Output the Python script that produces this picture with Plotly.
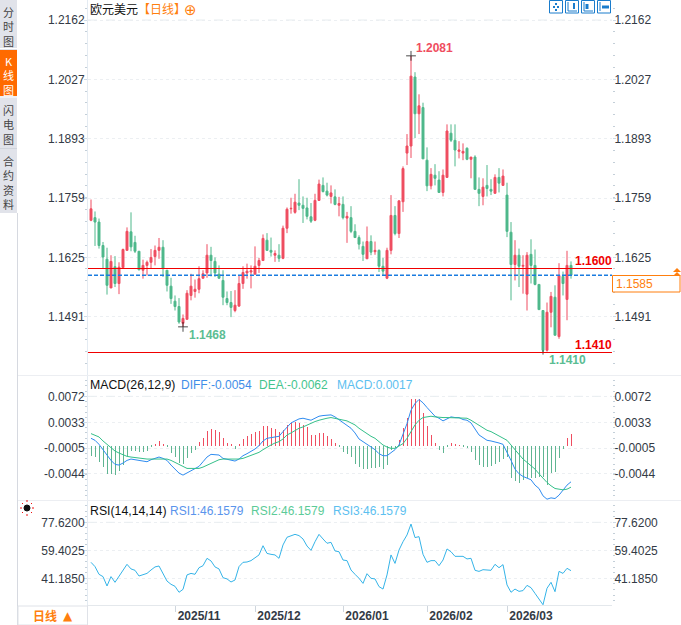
"""EUR/USD daily K-line with MACD and RSI panes."""

import plotly.graph_objects as go

# candles, oldest first
opens = [
    1.1709, 1.1715, 1.1705, 1.1652, 1.1621, 1.1556, 1.1604, 1.1566, 1.1602, 1.1641,
    1.1683, 1.1659, 1.1639, 1.1596, 1.1607, 1.1614, 1.1627, 1.1641, 1.1648, 1.1596,
    1.1560, 1.1526, 1.1514, 1.1476, 1.1485, 1.1539, 1.1548, 1.1553, 1.1578, 1.1590,
    1.1630, 1.1616, 1.1587, 1.1573, 1.1532, 1.1523, 1.1505, 1.1515, 1.1566, 1.1590,
    1.1592, 1.1587, 1.1607, 1.1618, 1.1664, 1.1641, 1.1630, 1.1630, 1.1623, 1.1691,
    1.1735, 1.1727, 1.1748, 1.1743, 1.1737, 1.1717, 1.1709, 1.1754, 1.1788, 1.1775,
    1.1763, 1.1762, 1.1743, 1.1745, 1.1714, 1.1715, 1.1684, 1.1670, 1.1650, 1.1622,
    1.1661, 1.1638, 1.1641, 1.1605, 1.1578, 1.1641, 1.1720, 1.1679, 1.1751, 1.1861,
    1.1877, 1.2033, 1.1950, 1.1964, 1.1845, 1.1787, 1.1811, 1.1800, 1.1772, 1.1806,
    1.1906, 1.1890, 1.1865, 1.1861, 1.1872, 1.1847, 1.1852, 1.1779, 1.1763, 1.1788,
    1.1779, 1.1770, 1.1806, 1.1788, 1.1766, 1.1682, 1.1609, 1.1630, 1.1605, 1.1542,
    1.1632, 1.1607, 1.1564, 1.1505, 1.1415, 1.1501, 1.1535, 1.1446, 1.1582, 1.1530,
    1.1607,
]
highs = [
    1.1756, 1.1729, 1.1713, 1.1660, 1.1647, 1.1630, 1.1628, 1.1614, 1.1645, 1.1693,
    1.1727, 1.1674, 1.1639, 1.1620, 1.1618, 1.1644, 1.1652, 1.1669, 1.1664, 1.1596,
    1.1579, 1.1539, 1.1533, 1.1496, 1.1551, 1.1588, 1.1575, 1.1605, 1.1596, 1.1655,
    1.1649, 1.1625, 1.1607, 1.1596, 1.1548, 1.1549, 1.1551, 1.1584, 1.1605, 1.1611,
    1.1607, 1.1650, 1.1624, 1.1677, 1.1680, 1.1670, 1.1641, 1.1655, 1.1697, 1.1738,
    1.1760, 1.1769, 1.1802, 1.1763, 1.1760, 1.1748, 1.1769, 1.1801, 1.1806, 1.1794,
    1.1788, 1.1779, 1.1762, 1.1763, 1.1728, 1.1741, 1.1700, 1.1675, 1.1661, 1.1695,
    1.1675, 1.1661, 1.1643, 1.1624, 1.1647, 1.1766, 1.1741, 1.1754, 1.1831, 1.1904,
    1.2081, 1.2044, 1.1994, 1.1975, 1.1874, 1.1827, 1.1836, 1.1820, 1.1824, 1.1926,
    1.1926, 1.1926, 1.1888, 1.1883, 1.1874, 1.1852, 1.1856, 1.1806, 1.1804, 1.1834,
    1.1802, 1.1813, 1.1827, 1.1824, 1.1794, 1.1705, 1.1664, 1.1645, 1.1630, 1.1637,
    1.1666, 1.1643, 1.1564, 1.1505, 1.1523, 1.1547, 1.1562, 1.1612, 1.1593, 1.1640,
    1.1616,
]
lows = [
    1.1707, 1.1651, 1.1645, 1.1600, 1.1541, 1.1556, 1.1558, 1.1542, 1.1600, 1.1641,
    1.1639, 1.1635, 1.1596, 1.1577, 1.1584, 1.1601, 1.1607, 1.1622, 1.1581, 1.1548,
    1.1520, 1.1505, 1.1475, 1.1468, 1.1485, 1.1528, 1.1534, 1.1544, 1.1577, 1.1579,
    1.1582, 1.1581, 1.1577, 1.1517, 1.1517, 1.1490, 1.1501, 1.1513, 1.1554, 1.1577,
    1.1555, 1.1587, 1.1590, 1.1617, 1.1640, 1.1627, 1.1615, 1.1615, 1.1621, 1.1680,
    1.1724, 1.1724, 1.1732, 1.1703, 1.1711, 1.1703, 1.1707, 1.1753, 1.1772, 1.1763,
    1.1747, 1.1743, 1.1718, 1.1711, 1.1658, 1.1680, 1.1670, 1.1643, 1.1617, 1.1622,
    1.1630, 1.1631, 1.1592, 1.1583, 1.1576, 1.1632, 1.1675, 1.1669, 1.1728, 1.1834,
    1.1850, 1.1895, 1.1904, 1.1848, 1.1775, 1.1779, 1.1788, 1.1772, 1.1763, 1.1806,
    1.1886, 1.1831, 1.1849, 1.1845, 1.1845, 1.1804, 1.1779, 1.1741, 1.1743, 1.1763,
    1.1766, 1.1770, 1.1772, 1.1788, 1.1671, 1.1528, 1.1573, 1.1558, 1.1543, 1.1505,
    1.1566, 1.1562, 1.1507, 1.1410, 1.1412, 1.1467, 1.1449, 1.1441, 1.1539, 1.1483,
    1.1577,
]
closes = [
    1.1735, 1.1705, 1.1652, 1.1626, 1.1562, 1.1616, 1.1566, 1.1603, 1.1643, 1.1684,
    1.1649, 1.1639, 1.1597, 1.1607, 1.1614, 1.1625, 1.1641, 1.1648, 1.1601, 1.1562,
    1.1532, 1.1514, 1.1479, 1.1487, 1.1544, 1.1560, 1.1553, 1.1577, 1.1588, 1.1630,
    1.1618, 1.1590, 1.1578, 1.1535, 1.1523, 1.1512, 1.1517, 1.1566, 1.1591, 1.1594,
    1.1595, 1.1605, 1.1618, 1.1668, 1.1641, 1.1637, 1.1634, 1.1623, 1.1691, 1.1734,
    1.1736, 1.1750, 1.1743, 1.1736, 1.1718, 1.1707, 1.1754, 1.1791, 1.1774, 1.1766,
    1.1771, 1.1745, 1.1747, 1.1715, 1.1718, 1.1684, 1.1670, 1.1655, 1.1632, 1.1661,
    1.1637, 1.1641, 1.1605, 1.1594, 1.1641, 1.1720, 1.1679, 1.1753, 1.1826, 1.1877,
    1.2035, 1.1950, 1.1968, 1.1848, 1.1787, 1.1813, 1.1804, 1.1772, 1.1811, 1.1911,
    1.1890, 1.1868, 1.1868, 1.1865, 1.1847, 1.1852, 1.1779, 1.1770, 1.1784, 1.1781,
    1.1775, 1.1806, 1.1793, 1.1809, 1.1684, 1.1609, 1.1630, 1.1605, 1.1607, 1.1630,
    1.1607, 1.1564, 1.1507, 1.1415, 1.1501, 1.1537, 1.1449, 1.1584, 1.1566, 1.1607,
    1.1585,
]

# MACD pane
macd_hist = [
    -.00154, -.00174, -.00239, -.00314, -.00418, -.00423, -.00433, -.00378, -.00289, -.00149,
    -.00075, -.00085, -.0009, -.0009, -.0008, -.00025, .00025, .0007, .00015, -.00025,
    -.00115, -.00174, -.00254, -.00274, -.00189, -.00105, -.00065, .00055, .0011, .00219,
    .00249, .00234, .00209, .0011, .00045, .0001, -.00045, .00025, .001, .00144,
    .00174, .00199, .00219, .00294, .00289, .00264, .00244, .00199, .00234, .00304,
    .00334, .00359, .00344, .00309, .00274, .00159, .00164, .00189, .00184, .00144,
    .001, .00045, -.00025, -.0009, -.00125, -.00174, -.00279, -.00314, -.00354, -.00344,
    -.00339, -.00339, -.00314, -.00354, -.00289, -.00065, -.0004, .00085, .00259, .00408,
    .00702, .00702, .00697, .00483, .00294, .00159, .00035, -.00065, -.00115, -.00025,
    .00035, .00025, .00005, -.00025, -.0004, -.001, -.00214, -.00289, -.00314, -.00319,
    -.00309, -.00274, -.00239, -.00204, -.00174, -.00488, -.00523, -.00553, -.00513, -.00488,
    -.00478, -.00488, -.00463, -.00463, -.00588, -.00403, -.00388, -.00179, -.0005, .00115,
    .00174,
]
diff = [
    .0011, .0008, .0002, -.0006, -.0015, -.0022, -.0028, -.0029, -.0026, -.0022,
    -.0020, -.0021, -.0022, -.0024, -.0024, -.0021, -.0019, -.0017, -.0019, -.0022,
    -.0029, -.0035, -.0041, -.0044, -.0041, -.0038, -.0035, -.0031, -.0024, -.0017,
    -.0013, -.0013, -.0014, -.0019, -.0020, -.0022, -.0023, -.0020, -.0015, -.0012,
    -.0009, -.0005, -.0000, .0007, .0011, .0012, .0012, .0014, .0021, .0028,
    .0034, .0037, .0040, .0041, .0040, .0038, .0041, .0044, .0045, .0046,
    .0046, .0043, .0039, .0034, .0031, .0026, .0019, .0010, .0006, .0002,
    -.0001, -.0006, -.0012, -.0015, -.0015, -.0011, -.0006, .0001, .0016, .0033,
    .0053, .0063, .0069, .0064, .0057, .0051, .0044, .0041, .0037, .0040,
    .0043, .0042, .0042, .0039, .0038, .0034, .0024, .0016, .0012, .0008,
    .0007, .0006, .0004, .0002, -.0009, -.0022, -.0035, -.0042, -.0046, -.0048,
    -.0051, -.0059, -.0064, -.0075, -.0080, -.0078, -.0079, -.0074, -.0067, -.0059,
    -.0054,
]
dea = [
    .0018, .0016, .0013, .0007, .0002, -.0002, -.0008, -.0011, -.0014, -.0016,
    -.0017, -.0018, -.0018, -.0020, -.0020, -.0020, -.0020, -.0020, -.0020, -.0020,
    -.0022, -.0025, -.0029, -.0032, -.0034, -.0034, -.0034, -.0034, -.0032, -.0029,
    -.0026, -.0024, -.0021, -.0020, -.0020, -.0021, -.0021, -.0020, -.0019, -.0017,
    -.0015, -.0013, -.0010, -.0006, -.0002, .0001, .0004, .0006, .0010, .0016,
    .0019, .0023, .0026, .0028, .0031, .0033, .0036, .0038, .0040, .0041,
    .0042, .0041, .0040, .0039, .0037, .0034, .0031, .0026, .0022, .0017,
    .0014, .0011, .0006, .0001, -.0002, -.0004, -.0004, -.0001, .0003, .0011,
    .0021, .0031, .0038, .0042, .0043, .0044, .0043, .0042, .0042, .0042,
    .0042, .0042, .0042, .0042, .0041, .0038, .0034, .0031, .0027, .0023,
    .0021, .0018, .0015, .0012, .0008, .0001, -.0006, -.0014, -.0020, -.0025,
    -.0030, -.0035, -.0042, -.0049, -.0055, -.0060, -.0064, -.0065, -.0066, -.0065,
    -.0062,
]

# RSI pane, the three periods share one value here
rsi = [
    51.6, 48.8, 43.8, 42.3, 36.2, 42.3, 38.6, 42.3, 46.6, 50.3,
    47.3, 46.4, 42.7, 43.8, 44.4, 46.6, 48.6, 49.2, 44.0, 39.4,
    37.3, 36.0, 32.1, 34.0, 43.4, 44.4, 43.8, 48.1, 49.4, 54.2,
    52.5, 48.6, 47.3, 41.6, 40.8, 38.8, 40.1, 48.8, 51.6, 51.8,
    52.7, 54.6, 56.4, 62.4, 57.4, 56.8, 56.4, 54.2, 62.9, 67.9,
    69.0, 69.8, 69.0, 66.8, 62.2, 59.4, 65.0, 69.8, 66.8, 64.0,
    64.6, 59.0, 58.5, 53.1, 52.7, 46.6, 43.8, 41.2, 37.9, 44.2,
    41.2, 40.8, 35.8, 34.2, 43.4, 56.4, 50.9, 59.6, 65.0, 69.4,
    76.5, 67.7, 68.3, 56.8, 51.6, 52.7, 52.7, 49.4, 53.1, 60.3,
    58.5, 55.5, 55.5, 55.5, 53.8, 54.2, 46.4, 45.7, 46.8, 46.8,
    46.4, 50.3, 48.1, 50.1, 36.9, 32.1, 34.2, 32.7, 33.2, 36.6,
    35.1, 31.4, 27.7, 24.0, 34.7, 38.6, 32.5, 45.7, 44.4, 47.7,
    46.16,
]

month_idx = [21, 41, 63, 84, 104]
month_labels = ["2025/11", "2025/12", "2026/01", "2026/02", "2026/03"]

price_ticks = [1.2162, 1.2027, 1.1893, 1.1759, 1.1625, 1.1491]
macd_ticks = [.00737, .00349, -.00035, -.00423]
macd_labels = ["0.0072", "0.0033", "-0.0005", "-0.0044"]
rsi_ticks = [77.62, 59.4025, 41.185]
rsi_labels = ["77.6200", "59.4025", "41.1850"]

last_price = 1.1585
level_high = 1.1600
level_low = 1.1410
marks_idx = [23, 80, 113]
marks_price = [1.1468, 1.2081, 1.1410]
marks_size = [7, 7, 3]

UP = "#ef4d60"
DOWN = "#4eb88b"
ORANGE = "#ff7f0e"
TEXT = "#333a45"
FONT = "Liberation Sans"
CJK = "Noto Sans CJK SC"

W, H = 681, 625
L, R, BOTTOM = 88, 612, 605
idx = list(range(len(closes)))
x_range = [-0.75, 130.25]

PRICE_RANGE = [1.13591, 1.22073]
MACD_RANGE = [-.00812, .01056]
RSI_RANGE = [23.83, 92.15]


def px(x):
    return (x - L) / (R - L)


def py(y):
    return (BOTTOM - y) / BOTTOM


def label(x, y, text, color=TEXT, size=12, anchor="left", font=FONT, weight=None):
    fig.add_annotation(
        x=px(x), y=py(y), xref="paper", yref="paper", text=text, showarrow=False,
        xanchor=anchor, yanchor="middle", xshift=-1 if anchor == "left" else 0, borderpad=0,
        font=dict(family=font, size=size, color=color, weight=weight),
    )


def box(x0, y0, x1, y1, fill=None, line=None, width=1):
    fig.add_shape(
        type="rect", xref="paper", yref="paper",
        x0=px(x0), x1=px(x1), y0=py(y0), y1=py(y1),
        fillcolor=fill, line=dict(color=line, width=width if line else 0), layer="above",
    )


def seg(x0, y0, x1, y1, color, width=1):
    fig.add_shape(
        type="line", xref="paper", yref="paper",
        x0=px(x0), x1=px(x1), y0=py(y0), y1=py(y1),
        line=dict(color=color, width=width), layer="above",
    )


fig = go.Figure()

fig.add_trace(go.Candlestick(
    x=idx, open=opens, high=highs, low=lows, close=closes, xaxis="x", yaxis="y",
    whiskerwidth=0,
    increasing=dict(line=dict(color=UP, width=1), fillcolor=UP),
    decreasing=dict(line=dict(color=DOWN, width=1), fillcolor=DOWN),
))
fig.add_trace(go.Scatter(
    x=marks_idx, y=marks_price, mode="markers", yaxis="y",
    marker=dict(symbol="cross-thin", size=marks_size, line=dict(color="#000000", width=1)),
))

# levels go on the right hand price axis
for level, color, width, dash in [(level_high, "#f00000", 1, "solid"), (level_low, "#f00000", 1, "solid"),
                                  (last_price, "#1b7ce0", 1.5, "4px,2px")]:
    fig.add_trace(go.Scatter(
        x=x_range, y=[level, level], mode="lines", yaxis="y4",
        line=dict(color=color, width=width, dash=dash),
    ))

# plotly widens sub 2px bars outwards, so keep the edges just inside one pixel
fig.add_trace(go.Bar(
    x=idx, y=macd_hist, yaxis="y2", width=0.24, offset=0.005,
    marker=dict(color=[UP if v > 0 else "#5fb592" for v in macd_hist], line=dict(width=0)),
))
fig.add_trace(go.Scatter(x=idx, y=diff, mode="lines", yaxis="y2",
                         line=dict(color="#2f8cf0", width=1)))
fig.add_trace(go.Scatter(x=idx, y=dea, mode="lines", yaxis="y5",
                         line=dict(color="#35c08a", width=1)))

# both RSI axes need a trace, only the top one is visible
fig.add_trace(go.Scatter(x=idx, y=rsi, mode="lines", yaxis="y3",
                         line=dict(color="#35b4e8", width=0)))
fig.add_trace(go.Scatter(x=idx, y=rsi, mode="lines", yaxis="y6",
                         line=dict(color="#35b4e8", width=1)))


def y_axis(domain, rng, ticks, text, minor_start, minor_step, side="left", overlay=None):
    axis = dict(
        domain=domain, range=rng, side=side, tickmode="array", tickvals=ticks, ticktext=text,
        tickfont=dict(family=FONT, size=12, color=TEXT), ticks="outside", ticklen=3,
        ticklabelstandoff=-3 if side == "left" else -4,
        tickcolor="#cfdbe6", fixedrange=True, zeroline=False,
        showgrid=side == "left", gridcolor="#eceff2", griddash="dot", gridwidth=1,
        showline=side == "left", linecolor="#e4ebf2", linewidth=1,
        minor=dict(tick0=minor_start, dtick=minor_step, ticks="outside", ticklen=2,
                   tickcolor="#c4cfd8", showgrid=False),
    )
    if overlay:
        axis["overlaying"] = overlay
    return axis


PRICE_DOM = [py(375), 1]
MACD_DOM = [py(500), py(375)]
RSI_DOM = [0, py(500)]

fig.update_layout(
    width=W, height=H, margin=dict(l=L, r=W - R, t=0, b=H - BOTTOM, pad=0, autoexpand=False),
    paper_bgcolor="#ffffff", plot_bgcolor="#ffffff", showlegend=False, bargap=0,
    xaxis=dict(
        range=x_range, tickmode="array", tickvals=month_idx, ticktext=month_labels,
        tickfont=dict(family=FONT, size=12, color=TEXT, weight=700),
        ticklabelshift=24, ticklabelstandoff=-6,
        ticks="outside", ticklen=6, tickcolor="#cfd6dd", anchor="y3",
        showgrid=False, zeroline=False, showline=True, linecolor="#e4e8ec",
        rangeslider=dict(visible=False), fixedrange=True,
    ),
    yaxis=y_axis(PRICE_DOM, PRICE_RANGE, price_ticks, [f"{v:.4f}" for v in price_ticks], 1.2162, .00268),
    yaxis4=y_axis(PRICE_DOM, PRICE_RANGE, price_ticks, [f"{v:.4f}" for v in price_ticks], 1.2162, .00268,
                  side="right", overlay="y"),
    yaxis2=y_axis(MACD_DOM, MACD_RANGE, macd_ticks, macd_labels, .00737, .00078),
    yaxis5=y_axis(MACD_DOM, MACD_RANGE, macd_ticks, macd_labels, .00737, .00078,
                  side="right", overlay="y2"),
    yaxis3=y_axis(RSI_DOM, RSI_RANGE, rsi_ticks, rsi_labels, 77.62, 3.6435),
    yaxis6=y_axis(RSI_DOM, RSI_RANGE, rsi_ticks, rsi_labels, 77.62, 3.6435,
                  side="right", overlay="y3"),
)

# the top gridline of each pane is dashed
for ref, top in [("y", price_ticks[0]), ("y2", macd_ticks[0]), ("y3", rsi_ticks[0])]:
    fig.add_shape(type="line", xref="paper", yref=ref, x0=0, x1=1, y0=top, y1=top,
                  line=dict(color="#e6ecef", width=1, dash="dash"), layer="below")

# pane separators
seg(18, 375.5, W, 375.5, "#eceef2")
seg(18, 500.5, W, 500.5, "#eceef2")
seg(17.5, 213, 17.5, H, "#d6d9e0")

# left tabs
box(0, 0, 17, 213, fill="#e1e3ea")
box(0, 50, 17, 96, fill="#ff6a00")
seg(0, 48.5, 17, 48.5, "#ffffff")
seg(0, 97, 17, 97, "#ffffff")
seg(0, 148.5, 17, 148.5, "#d0d4dc")
label(8.5, 27, "分<br>时<br>图", color="#444444", size=11, anchor="center", font=CJK)
label(8.5, 75, "K<br>线<br>图", color="#ffffff", size=11, anchor="center", font=CJK)
label(8.5, 124, "闪<br>电<br>图", color="#444444", size=11, anchor="center", font=CJK)
label(8.5, 183, "合<br>约<br>资<br>料", color="#444444", size=11, anchor="center", font=CJK)

# header
label(90, 9, "欧元美元", color="#111111", font=CJK)
label(138, 9, "【日线】", color=ORANGE, font=CJK)
label(190, 10, "⊕", color=ORANGE, size=15, anchor="center", font="DejaVu Sans")

# toolbar icons
for x0 in (549.5, 565.5, 581.5, 597.5):
    box(x0, 0.5, x0 + 13, 13, fill="#ffffff", line="#1a7ccc")
seg(553, 7, 555, 7, "#1a7ccc", 2)
seg(557, 7, 559, 7, "#1a7ccc", 2)
seg(556, 3, 556, 5, "#1a7ccc", 2)
seg(556, 9, 556, 11, "#1a7ccc", 2)
seg(568, 2, 568, 11, "#1a7ccc")
seg(568, 11, 577, 11, "#1a7ccc")
seg(574, 3, 574, 9, "#1a7ccc", 2)
seg(584, 2, 584, 11, "#1a7ccc")
seg(584, 11, 593, 11, "#1a7ccc")
seg(587, 4, 587, 9, "#1a7ccc", 3)
seg(600, 2, 600, 11, "#1a7ccc")
seg(602, 7, 609, 7, "#1a7ccc", 3)

# price notes
label(416, 48, "1.2081", color=UP, weight=700)
label(189, 335, "1.1468", color="#5bbd93", weight=700)
label(549, 360, "1.1410", color="#5bbd93", weight=700)
label(575, 261, "1.1600", color="#f00000", weight=700)
label(575, 345, "1.1410", color="#f00000", weight=700)

box(612.5, 275.5, 680, 292, fill="#ffffff", line=ORANGE)
label(616, 284, f"{last_price:.4f}", color=ORANGE)
for top in (268, 272):
    fig.add_shape(
        type="path", xref="paper", yref="paper", layer="above", fillcolor=ORANGE, line=dict(width=0),
        path=f"M {px(673)} {py(top + 4)} L {px(677)} {py(top)} L {px(681)} {py(top + 4)} Z",
    )

# indicator headers
label(90, 385, "MACD(26,12,9)", color="#111111", size=12.3)
label(181, 385, "DIFF:-0.0054", color="#3f8ee8")
label(259, 385, "DEA:-0.0062", color="#44c48e")
label(337, 385, "MACD:0.0017", color="#5cc0f0")
label(90, 511, "RSI(14,14,14)", color="#111111", size=12.3)
label(170, 511, "RSI1:46.1579", color="#5a94ec")
label(251, 511, "RSI2:46.1579", color="#5ccb98")
label(333, 511, "RSI3:46.1579", color="#5cc0f0")

# sun icon by the RSI pane
fig.add_shape(type="circle", xref="paper", yref="paper", x0=px(24), x1=px(30), y0=py(511), y1=py(505),
              fillcolor="#111111", line=dict(color="#111111", width=1), layer="above")
for x0, y0, x1, y1 in [(27, 500, 27, 502), (27, 514, 27, 516), (20, 508, 22, 508), (32, 508, 34, 508),
                       (22, 503, 23, 504), (31, 504, 32, 503), (22, 513, 23, 512), (31, 512, 32, 513)]:
    seg(x0, y0, x1, y1, "#ee1111")

# bottom period tab
box(18, 606, 87.5, 625, fill="#ffffff", line="#dfe2e8")
label(33, 616, "日线", color=ORANGE, size=12, font=CJK, weight=700)
label(63, 616, "▲", color=ORANGE, size=12, font="DejaVu Sans")

fig.write_html("out.html", config={"displayModeBar": False},
               post_script="document.body.style.margin='0';")
